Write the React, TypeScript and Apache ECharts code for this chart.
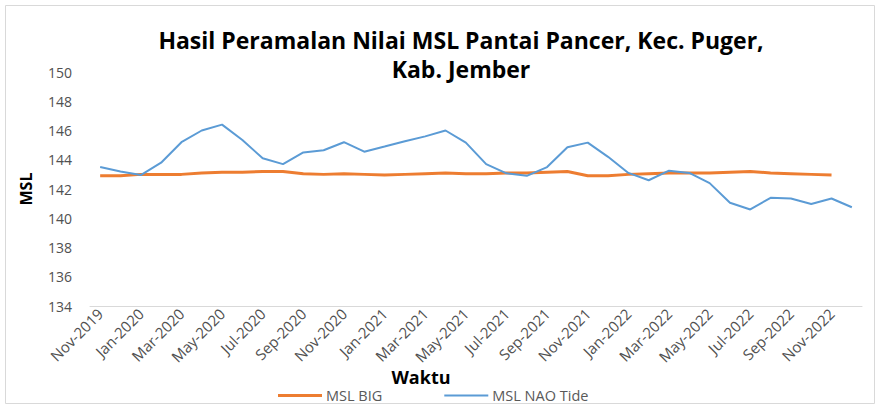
import React, { useEffect, useRef } from "react";
import * as echarts from "echarts";

const months = [
  "Nov-2019", "Dec-2019",
  "Jan-2020", "Feb-2020", "Mar-2020", "Apr-2020", "May-2020", "Jun-2020", "Jul-2020", "Aug-2020", "Sep-2020", "Oct-2020", "Nov-2020", "Dec-2020",
  "Jan-2021", "Feb-2021", "Mar-2021", "Apr-2021", "May-2021", "Jun-2021", "Jul-2021", "Aug-2021", "Sep-2021", "Oct-2021", "Nov-2021", "Dec-2021",
  "Jan-2022", "Feb-2022", "Mar-2022", "Apr-2022", "May-2022", "Jun-2022", "Jul-2022", "Aug-2022", "Sep-2022", "Oct-2022", "Nov-2022", "Dec-2022",
];

const mslBig = [
  142.9, 142.9,
  143.0, 143.0, 143.0, 143.1, 143.15, 143.15, 143.2, 143.2, 143.05, 143.0, 143.05, 143.0,
  142.95, 143.0, 143.05, 143.1, 143.05, 143.05, 143.1, 143.1, 143.15, 143.2, 142.9, 142.9,
  143.0, 143.05, 143.1, 143.1, 143.1, 143.15, 143.2, 143.1, 143.05, 143.0, 142.95,
];

const mslNao = [
  143.5, 143.2,
  142.95, 143.8, 145.2, 146.0, 146.4, 145.35, 144.1, 143.7, 144.5, 144.65, 145.2, 144.55,
  144.9, 145.27, 145.6, 146.0, 145.17, 143.7, 143.07, 142.9, 143.5, 144.85, 145.17, 144.2,
  143.1, 142.6, 143.25, 143.1, 142.4, 141.06, 140.6, 141.4, 141.35, 140.97, 141.35, 140.75,
];

const yTicks = { min: 134, max: 150, interval: 2 };

export default function App() {
  const ref = useRef<HTMLDivElement>(null);
  useEffect(() => {
    document.body.style.margin = "0";
    const chart = echarts.init(ref.current!, undefined, { renderer: "svg" });
    const font = "'Open Sans', 'Noto Sans', sans-serif";
    chart.setOption({
      animation: false,
      backgroundColor: "#ffffff",
      title: {
        text: "Hasil Peramalan Nilai MSL Pantai Pancer, Kec. Puger,\nKab. Jember",
        left: 456,
        textAlign: "center",
        top: 20,
        textStyle: { fontFamily: font, fontWeight: "bold", fontSize: 23, color: "#000", lineHeight: 29 },
      },
      graphic: [
        {
          type: "rect",
          shape: { x: 5.5, y: 5.5, width: 869, height: 398 },
          style: { fill: "none", stroke: "#d9d9d9", lineWidth: 1 },
          silent: true,
        },
        {
          type: "text",
          x: 421,
          y: 377,
          style: {
            text: "Waktu",
            fontFamily: font,
            fontWeight: "bold",
            fontSize: 18,
            fill: "#000",
            textAlign: "center",
            textVerticalAlign: "middle",
          },
          silent: true,
        },
      ],
      legend: {
        top: 388,
        left: 278,
        padding: 0,
        itemWidth: 44,
        itemHeight: 10,
        itemGap: 62,
        textStyle: { fontFamily: font, fontSize: 14.5, lineHeight: 14, color: "#595959", padding: [0, 0, 0, -1] },
        data: [
          { name: "MSL BIG", icon: "path://M0,4 L44,4 L44,7 L0,7 Z" },
          { name: "MSL NAO Tide", icon: "path://M0,4.5 L44,4.5 L44,6.5 L0,6.5 Z" },
        ],
      },
      grid: { left: 90, right: 18, top: 72, bottom: 99 },
      xAxis: {
        type: "category",
        data: months,
        boundaryGap: true,
        axisLine: { show: true, lineStyle: { color: "#d9d9d9", width: 1 } },
        axisTick: { show: false },
        axisLabel: {
          interval: 1,
          rotate: 45,
          fontFamily: font,
          fontSize: 15,
          color: "#505050",
          margin: 5,
        },
        splitLine: { show: false },
      },
      yAxis: {
        type: "value",
        min: yTicks.min,
        max: yTicks.max,
        interval: yTicks.interval,
        name: "MSL",
        nameLocation: "middle",
        nameRotate: 90,
        nameGap: 56,
        nameTextStyle: { fontFamily: font, fontWeight: "bold", fontSize: 16, color: "#000" },
        axisLine: { show: false },
        axisTick: { show: false },
        splitLine: { show: false },
        axisLabel: { fontFamily: font, fontSize: 14, color: "#505050", margin: 18 },
      },
      series: [
        {
          name: "MSL BIG",
          type: "line",
          data: mslBig,
          symbol: "none",
          lineStyle: { color: "#ED7D31", width: 3 },
          itemStyle: { color: "#ED7D31" },
        },
        {
          name: "MSL NAO Tide",
          type: "line",
          data: mslNao,
          symbol: "none",
          lineStyle: { color: "#5B9BD5", width: 2 },
          itemStyle: { color: "#5B9BD5" },
        },
      ],
    });
    return () => chart.dispose();
  }, []);
  return <div ref={ref} style={{ width: 880, height: 405 }} />;
}
